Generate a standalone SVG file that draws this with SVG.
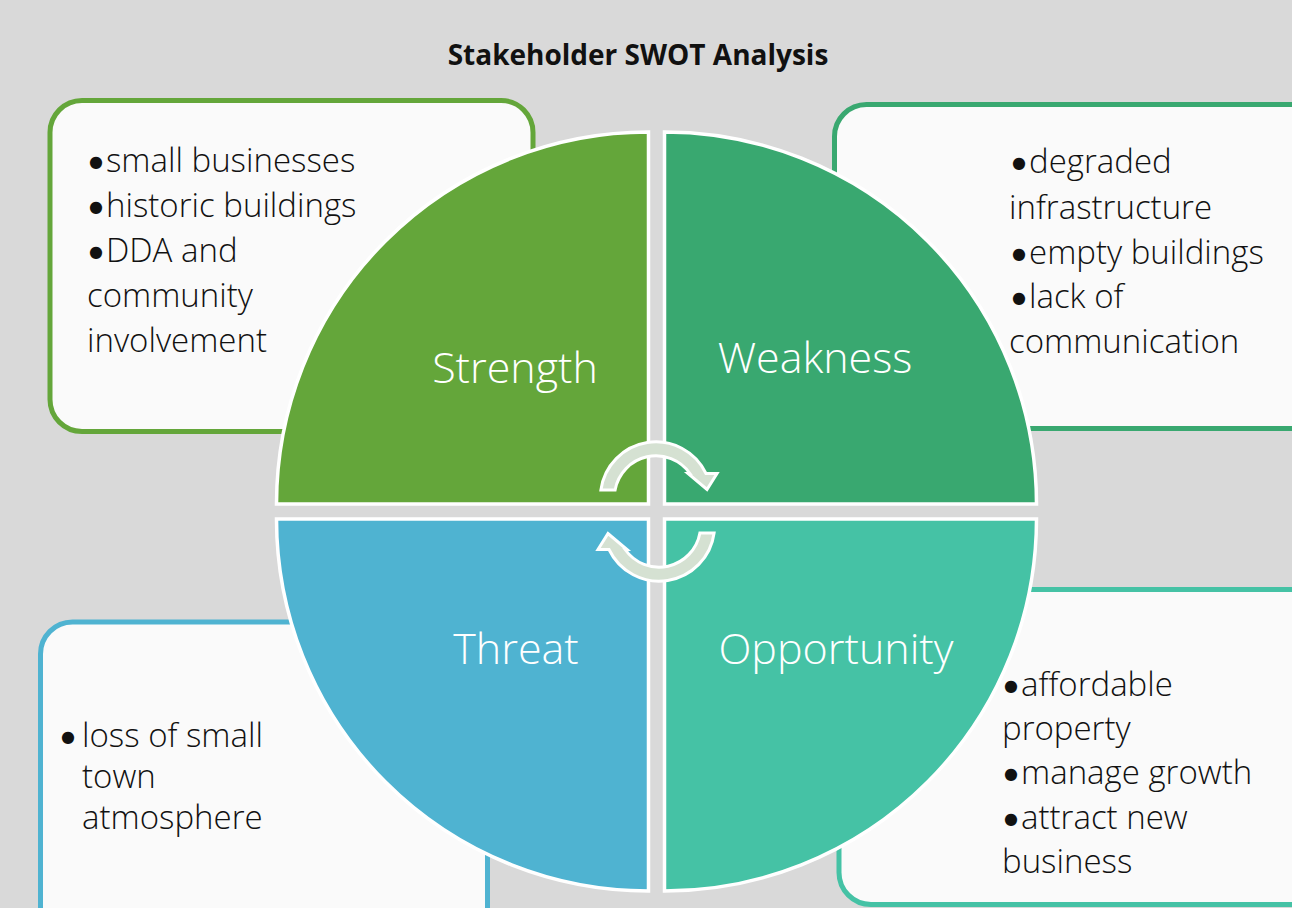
<svg xmlns="http://www.w3.org/2000/svg" width="1292" height="908" viewBox="0 0 1292 908">
<style>
.box{fill:#fafafa;stroke-width:5}
.quad{stroke:#ffffff;stroke-width:3.5}
.bt{font-family:"Open Sans","Noto Sans","Liberation Sans",sans-serif;font-weight:300;font-size:33px;fill:#111111}
.bul{font-family:"DejaVu Sans",sans-serif;font-weight:400;font-size:16px}
.ql{font-family:"Open Sans","Noto Sans","Liberation Sans",sans-serif;font-weight:300;font-size:43px;fill:#ffffff;text-anchor:middle}
.title{font-family:"Open Sans","Noto Sans","Liberation Sans",sans-serif;font-weight:700;font-size:28px;fill:#111111;text-anchor:middle}
.arr{fill:#d5e1d2;stroke:#ffffff;stroke-width:3;stroke-linejoin:miter}
</style>
<rect x="0" y="0" width="1292" height="908" fill="#d9d9d9"/>
<text class="title" x="638" y="65">Stakeholder SWOT Analysis</text>

<g id="box-strength">
<rect class="box" x="50" y="100.5" width="483" height="331" rx="32" stroke="#64a63a"/>
</g>
<g id="box-weakness">
<rect class="box" x="834.5" y="104.5" width="520" height="324" rx="32" stroke="#39a870"/>
</g>
<g id="box-threat">
<rect class="box" x="40.5" y="622" width="447" height="330" rx="32" stroke="#4fb3d1"/>
</g>
<g id="box-opportunity">
<rect class="box" x="839" y="589.5" width="520" height="315" rx="32" stroke="#45c2a5"/>
</g>

<g id="quad-strength">
<path class="quad" fill="#64a63a" d="M648.5,504 L276.5,504 A372,372 0 0 1 648.5,132 Z"/>
<text class="ql" x="515" y="383">Strength</text>
</g>
<g id="quad-weakness">
<path class="quad" fill="#39a870" d="M664.5,504 L664.5,132 A372,372 0 0 1 1036.5,504 Z"/>
<text class="ql" x="815" y="373">Weakness</text>
</g>
<g id="quad-threat">
<path class="quad" fill="#4fb3d1" d="M648.5,519 L648.5,891 A372,372 0 0 1 276.5,519 Z"/>
<text class="ql" x="516" y="664">Threat</text>
</g>
<g id="quad-opportunity">
<path class="quad" fill="#45c2a5" d="M664.5,519 L1036.5,519 A372,372 0 0 1 664.5,891 Z"/>
<text class="ql" x="836" y="664">Opportunity</text>
</g>

<g id="connectors">
<path class="arr" d="M600.9,490 A55.5,55.5 0 0 1 706,473.5 L717,473.5 L707,489.5 L688,473.5 L689.9,473.5 A41.5,41.5 0 0 0 615.1,490 Z"/>
<path class="arr" transform="rotate(180 657.5 511.5)" d="M600.9,490 A55.5,55.5 0 0 1 706,473.5 L717,473.5 L707,489.5 L688,473.5 L689.9,473.5 A41.5,41.5 0 0 0 615.1,490 Z"/>
</g>

<g id="text-strength">
<text class="bt" x="89" y="172"><tspan class="bul" dy="-5">●</tspan><tspan x="106" dy="5">small businesses</tspan></text>
<text class="bt" x="89" y="217"><tspan class="bul" dy="-5">●</tspan><tspan x="106" dy="5">historic buildings</tspan></text>
<text class="bt" x="89" y="262"><tspan class="bul" dy="-5">●</tspan><tspan x="106" dy="5">DDA and</tspan></text>
<text class="bt" x="87" y="307">community</text>
<text class="bt" x="87" y="352">involvement</text>
</g>
<g id="text-weakness">
<text class="bt" x="1012" y="173"><tspan class="bul" dy="-5">●</tspan><tspan x="1029" dy="5">degraded</tspan></text>
<text class="bt" x="1009" y="219">infrastructure</text>
<text class="bt" x="1012" y="264"><tspan class="bul" dy="-5">●</tspan><tspan x="1029" dy="5">empty buildings</tspan></text>
<text class="bt" x="1012" y="308"><tspan class="bul" dy="-5">●</tspan><tspan x="1029" dy="5">lack of</tspan></text>
<text class="bt" x="1009" y="353">communication</text>
</g>
<g id="text-threat">
<text class="bt" x="61" y="747"><tspan class="bul" dy="-5">●</tspan><tspan x="82" dy="5">loss of small</tspan></text>
<text class="bt" x="82" y="788">town</text>
<text class="bt" x="82" y="829">atmosphere</text>
</g>
<g id="text-opportunity">
<text class="bt" x="1004" y="696"><tspan class="bul" dy="-5">●</tspan><tspan x="1021" dy="5">affordable</tspan></text>
<text class="bt" x="1002" y="740">property</text>
<text class="bt" x="1004" y="784"><tspan class="bul" dy="-5">●</tspan><tspan x="1021" dy="5">manage growth</tspan></text>
<text class="bt" x="1004" y="829"><tspan class="bul" dy="-5">●</tspan><tspan x="1021" dy="5">attract new</tspan></text>
<text class="bt" x="1002" y="873">business</text>
</g>
</svg>
